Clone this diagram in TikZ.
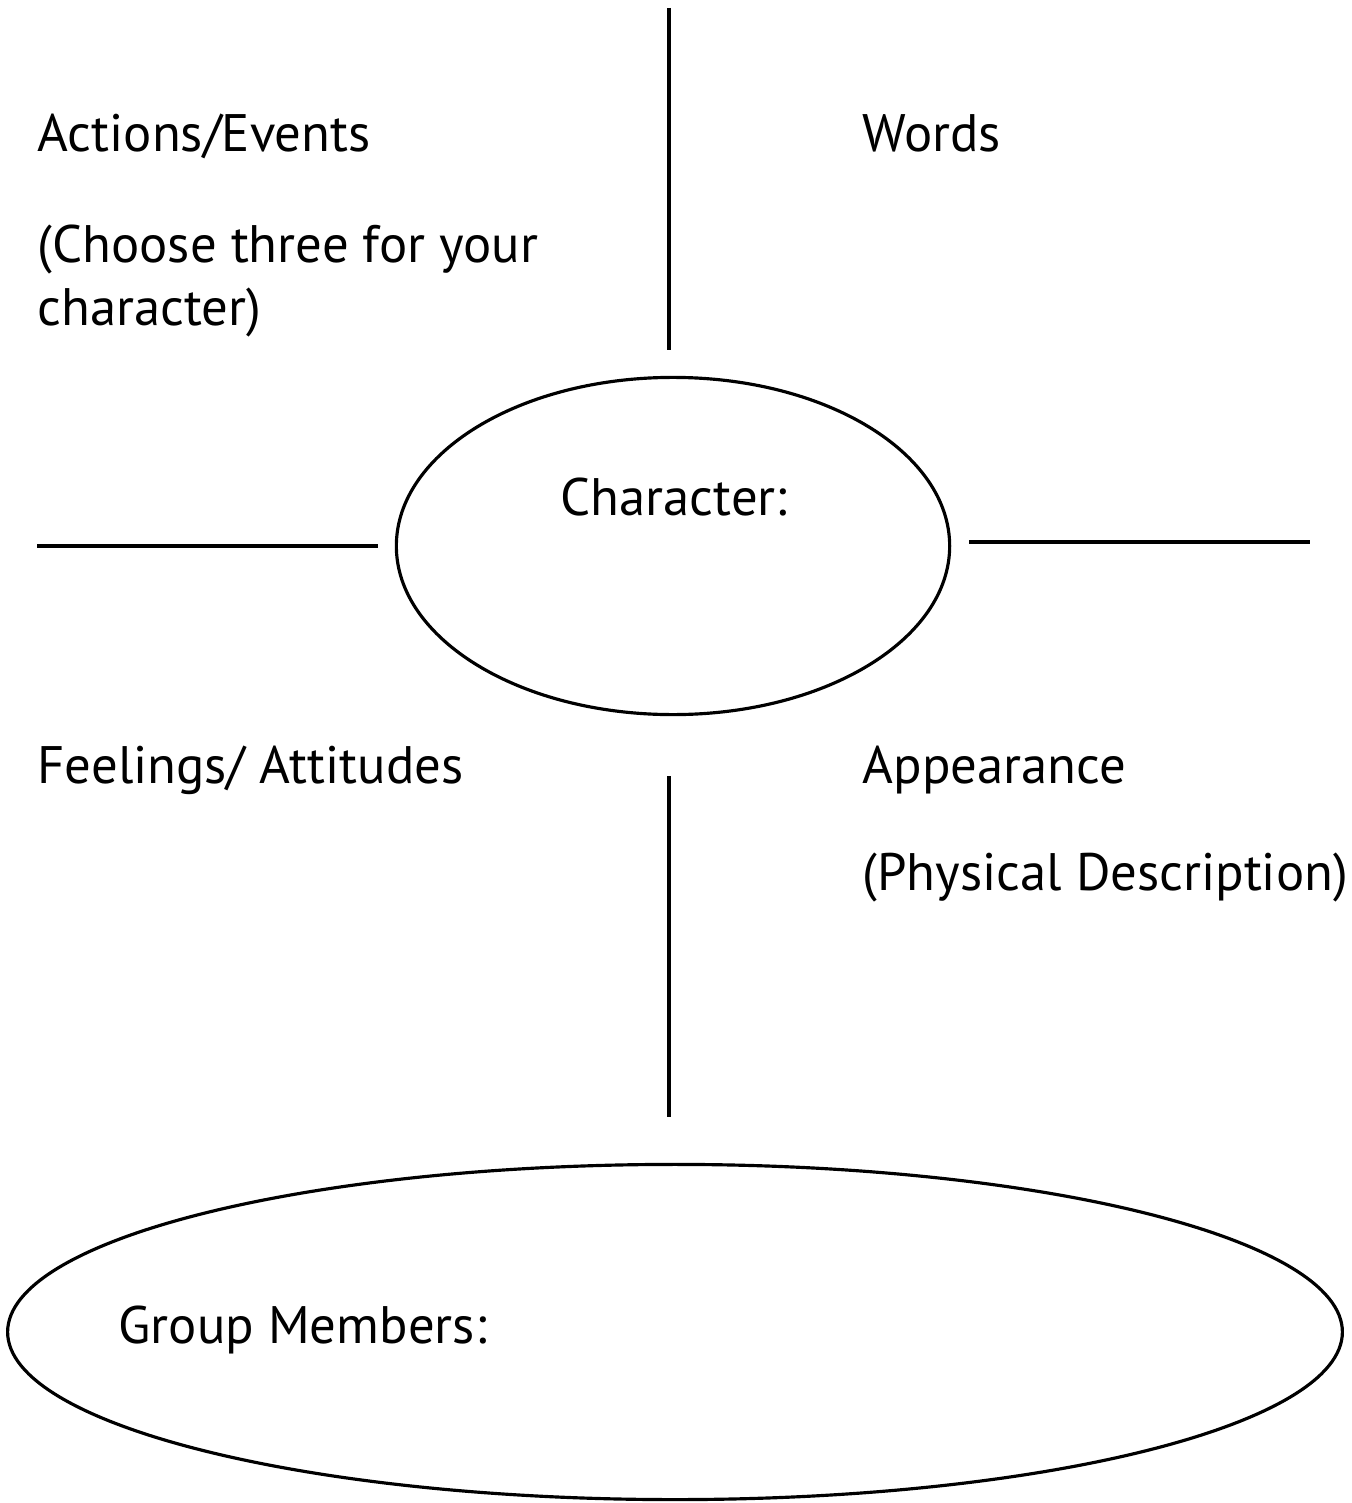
\documentclass[tikz,border=0pt]{standalone}
\usepackage{fontspec}
\setmainfont{PT Sans}
\usetikzlibrary{shapes.geometric}
\begin{document}
\begin{tikzpicture}[
    x=0.01cm, y=-0.01cm,
    rule/.style={line width=1.1pt},
    label/.style={anchor=base west, inner sep=0pt, font=\fontsize{15}{18}\selectfont},
    oval/.style={draw, ellipse, line width=0.9pt, inner sep=0pt}
  ]
    \useasboundingbox (0,0) rectangle (1351,1503);

    % Ovals
    \node[oval, minimum width=5.53cm, minimum height=3.37cm] (char) at (673,546) {};
    \node[oval, minimum width=13.34cm, minimum height=3.35cm] (group) at (675,1332) {};

    % Dividing lines
    \draw[rule] (669,8) -- (669,350);
    \draw[rule] (669,776) -- (669,1117);
    \draw[rule] (37,546) -- (378,546);
    \draw[rule] (969,542) -- (1310,542);

    % Labels
    \node[label] (actions) at (37,152) {Actions/Events};
    \node[label] (choose) at (37,262) {(Choose three for your};
    \node[label] (choose2) at (37,325) {character)};
    \node[label] (words) at (862,152) {Words};
    \node[label] (chname) at (560,515) {Character:};
    \node[label] (feel) at (37,783) {Feelings/ Attitudes};
    \node[label] (appear) at (862,783) {Appearance};
    \node[label] (phys) at (862,890) {(Physical Description)};
    \node[label] (members) at (118,1343) {Group Members:};
\end{tikzpicture}
\end{document}
